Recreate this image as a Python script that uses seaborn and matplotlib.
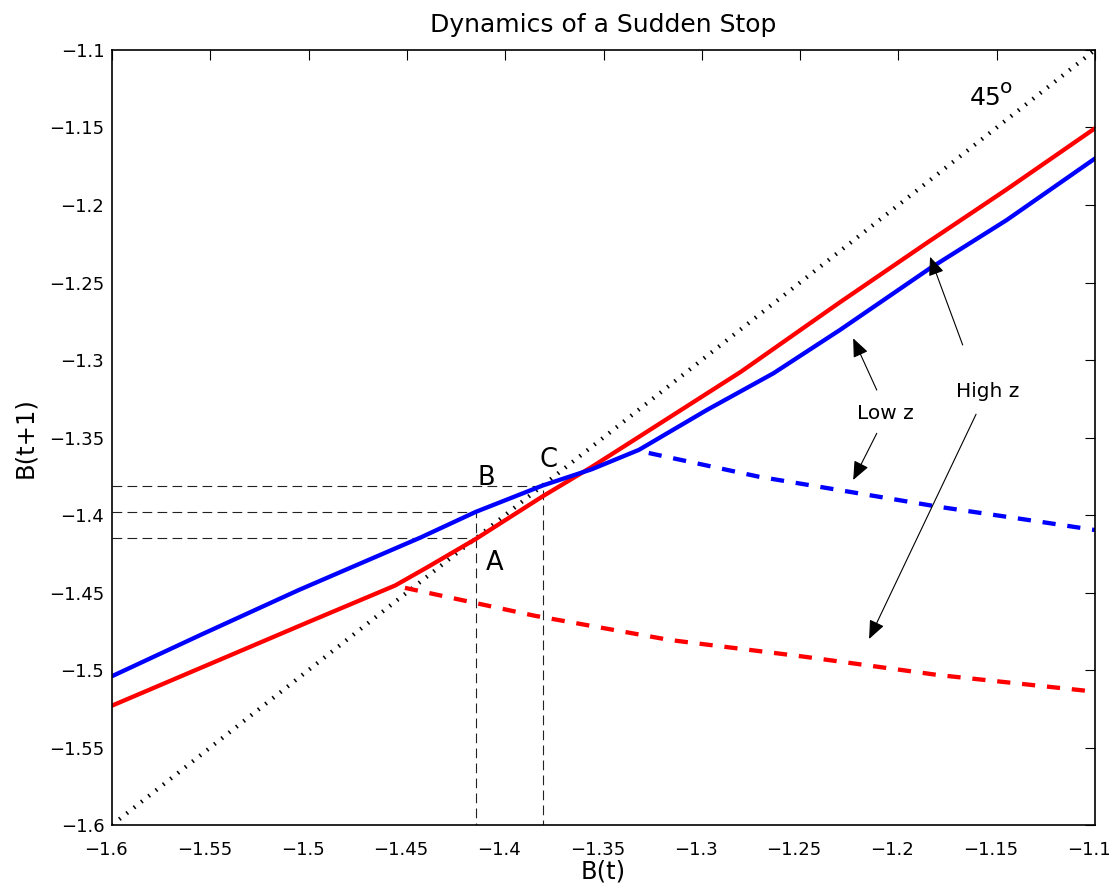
import matplotlib
matplotlib.use("Agg")
import matplotlib.pyplot as plt
import matplotlib.transforms as mtransforms
import seaborn as sns

# Policy function B(t+1) = g(B(t)) for high productivity (red)
high_x = [-1.600, -1.550, -1.500, -1.456, -1.440, -1.415, -1.381, -1.356,
          -1.330, -1.280, -1.230, -1.185, -1.145, -1.100]
high_y = [-1.523, -1.496, -1.469, -1.4455, -1.434, -1.4155, -1.388, -1.369,
          -1.348, -1.3075, -1.263, -1.224, -1.190, -1.1505]

# Policy function for low productivity (blue)
low_x = [-1.600, -1.555, -1.505, -1.443, -1.415, -1.381, -1.356, -1.332,
         -1.2975, -1.2636, -1.2297, -1.1839, -1.1449, -1.100]
low_y = [-1.504, -1.4774, -1.4484, -1.4145, -1.398, -1.381, -1.3705, -1.358,
         -1.3323, -1.3086, -1.2806, -1.2408, -1.2097, -1.170]

# Branches where the credit constraint binds (dashed)
high_bind_x = [-1.451, -1.385, -1.3165, -1.248, -1.180, -1.100]
high_bind_y = [-1.447, -1.465, -1.4806, -1.4914, -1.5032, -1.514]
low_bind_x = [-1.327, -1.271, -1.225, -1.180, -1.134, -1.100]
low_bind_y = [-1.360, -1.3753, -1.385, -1.3946, -1.4032, -1.4097]

# Marked states
point_A = (-1.415, -1.415)
point_B = (-1.415, -1.398)
point_C = (-1.381, -1.381)

axis_range = [-1.6, -1.1]
tick_values = [-1.6, -1.55, -1.5, -1.45, -1.4, -1.35, -1.3, -1.25, -1.2, -1.15, -1.1]
tick_labels = ["\u22121.6", "\u22121.55", "\u22121.5", "\u22121.45", "\u22121.4",
               "\u22121.35", "\u22121.3", "\u22121.25", "\u22121.2", "\u22121.15",
               "\u22121.1"]

sns.set_style("white")
plt.rcParams["font.family"] = ["DejaVu Sans"]
plt.rcParams["lines.scale_dashes"] = False
plt.rcParams["text.color"] = "black"
plt.rcParams["axes.labelcolor"] = "black"

fig = plt.figure(figsize=(11.15, 8.96), dpi=100)
ax = fig.add_axes([112 / 1115, 71 / 896, 983 / 1115, 775 / 896])

# 45 degree line
sns.lineplot(x=axis_range, y=axis_range, ax=ax, color="black", lw=3.0,
             linestyle=(0, (1.1, 5.6)), dash_capstyle="butt",
             sort=False, estimator=None, legend=False)

# Guide lines to the marked states
lo = axis_range[0]
guide = dict(color="#222222", lw=0.8, linestyle=(0, (7.0, 3.8)))
ax.plot([lo, point_C[0], point_C[0]], [point_C[1], point_C[1], lo], **guide)
ax.plot([lo, point_B[0], point_B[0]], [point_B[1], point_B[1], lo], **guide)
ax.plot([lo, point_A[0]], [point_A[1], point_A[1]], **guide)

solid = dict(ax=ax, lw=3.1, sort=False, estimator=None, legend=False)
dash = dict(ax=ax, lw=3.1, sort=False, estimator=None, legend=False,
            linestyle=(0, (9.5, 8.5)), dash_capstyle="butt")
sns.lineplot(x=high_x, y=high_y, color="#ff0000", **solid)
sns.lineplot(x=low_x, y=low_y, color="#0000ff", **solid)
sns.lineplot(x=high_bind_x, y=high_bind_y, color="#ff0000", **dash)
sns.lineplot(x=low_bind_x, y=low_bind_y, color="#0000ff", **dash)

# Point labels
ax.text(-1.4052, -1.4308, "A", fontsize=18.5, ha="center", va="center")
ax.text(-1.4096, -1.3763, "B", fontsize=18.5, ha="center", va="center")
ax.text(-1.3778, -1.3645, "C", fontsize=18.5, ha="center", va="center")
ax.text(-1.1636, -1.1355, "45", fontsize=18, ha="left", va="baseline")
ax.text(-1.1483, -1.1279, "o", fontsize=14.5, ha="left", va="baseline")

# Annotations with arrows
ax.text(-1.2068, -1.3342, "Low z", fontsize=14.5, ha="center", va="center")
ax.text(-1.1547, -1.3206, "High z", fontsize=14.5, ha="center", va="center")
arrow = dict(arrowstyle="-|>,head_length=0.95,head_width=0.4",
             mutation_scale=12, color="black", lw=0.8, shrinkA=0, shrinkB=0)
ax.annotate("", xy=(-1.2230, -1.2860), xytext=(-1.2110, -1.3194), arrowprops=arrow)
ax.annotate("", xy=(-1.2230, -1.3774), xytext=(-1.2110, -1.3473), arrowprops=arrow)
ax.annotate("", xy=(-1.1839, -1.2334), xytext=(-1.1673, -1.2903), arrowprops=arrow)
ax.annotate("", xy=(-1.2149, -1.4800), xytext=(-1.1605, -1.3350), arrowprops=arrow)

ax.set_xlim(axis_range)
ax.set_ylim(axis_range)
ax.set_xticks(tick_values)
ax.set_xticklabels(tick_labels)
ax.set_yticks(tick_values)
ax.set_yticklabels(tick_labels)
ax.tick_params(axis="both", direction="in", length=7, width=0.8, color="black",
               top=True, right=True, labelsize=13, labelcolor="black")
ax.tick_params(axis="x", pad=11.8)
ax.tick_params(axis="y", pad=5.5)
for s in ax.spines.values():
    s.set_color("black")
    s.set_linewidth(1.2)
    s.set_visible(True)

# Nudge the x tick labels slightly left so the last one stays on the canvas
shift = mtransforms.ScaledTranslation(-6 / 100, 0, fig.dpi_scale_trans)
for lab in ax.get_xticklabels():
    lab.set_transform(lab.get_transform() + shift)

ax.set_title("Dynamics of a Sudden Stop", fontsize=18, pad=13, color="black")
ax.set_xlabel("B(t)", fontsize=17.5)
ax.set_ylabel("B(t+1)", fontsize=17.5)
ax.xaxis.set_label_coords(0.5, -0.045)
ax.yaxis.set_label_coords(-0.0763, 0.5)

fig.savefig("out.png", dpi=100, facecolor="white")
